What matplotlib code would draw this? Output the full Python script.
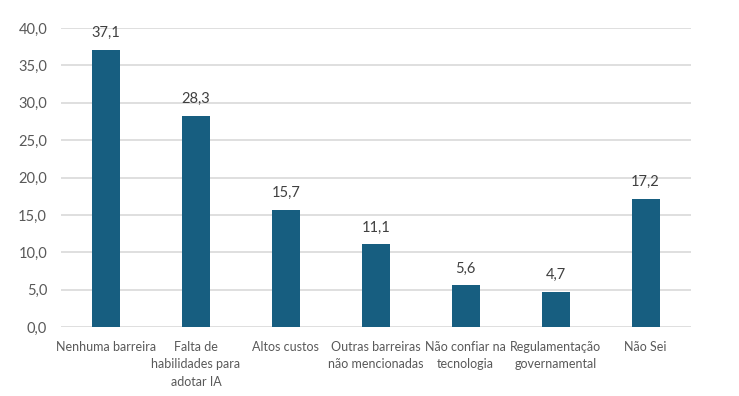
import matplotlib
matplotlib.use("Agg")
import matplotlib.pyplot as plt
from matplotlib import font_manager

categories = ["Nenhuma barreira", "Falta de\nhabilidades para\nadotar IA", "Altos custos",
              "Outras barreiras\nnão mencionadas", "Não confiar na\ntecnologia",
              "Regulamentação\ngovernamental", "Não Sei"]
values = [37.1, 28.3, 15.7, 11.1, 5.6, 4.7, 17.2]
yticks = [0, 5, 10, 15, 20, 25, 30, 35, 40]

names = {f.name for f in font_manager.fontManager.ttflist}
fam = "Liberation Sans Narrow" if "Liberation Sans Narrow" in names else "Lato"
plt.rcParams['font.family'] = [fam, 'DejaVu Sans']

fig = plt.figure(figsize=(7.39, 3.96), dpi=100)
ax = fig.add_axes([0.0825, 0.174, 0.852, 0.755])
x = list(range(len(categories)))
ax.bar(x, values, width=0.31, color="#175E80", zorder=3)
for xi, v in zip(x, values):
    ax.text(xi, v + 1.3, f"{v:.1f}".replace(".", ","), ha="center", va="bottom",
            fontsize=10.5, color="#404040")
ax.set_xlim(-0.5, len(categories) - 0.5)
ax.set_ylim(0, 40)
ax.set_yticks(yticks)
ax.set_yticklabels([f"{t:.1f}".replace(".", ",") for t in yticks], fontsize=10.5, color="#595959")
ax.set_xticks(x)
ax.set_xticklabels(categories, fontsize=9, color="#595959", linespacing=1.55)
ax.tick_params(axis="both", length=0)
ax.tick_params(axis="x", pad=10)
ax.tick_params(axis="y", pad=10)
ax.yaxis.grid(True, color="#D9D9D9", linewidth=1.2, zorder=0)
for s in ax.spines.values():
    s.set_visible(False)
fig.savefig("out.png", dpi=100)
